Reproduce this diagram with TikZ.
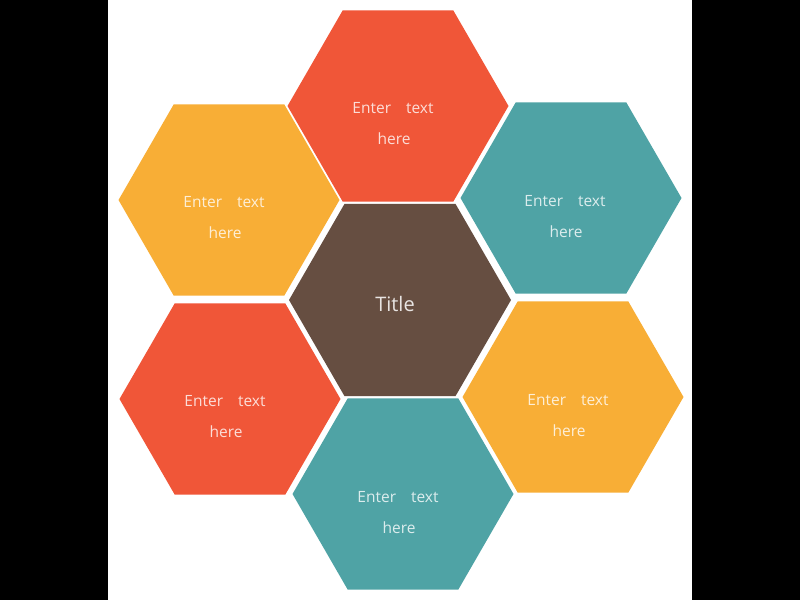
\documentclass[tikz,border=0pt]{standalone}
\usepackage{fontspec}
\setmainfont{Open Sans}
\usetikzlibrary{shapes.geometric}
\definecolor{hexred}{HTML}{F05638}
\definecolor{hexorange}{HTML}{F8AE36}
\definecolor{hexteal}{HTML}{4FA3A5}
\definecolor{hexbrown}{HTML}{664E41}
\begin{document}
\begin{tikzpicture}[x=1pt,y=-1pt,
  hexa/.style={regular polygon, regular polygon sides=6, minimum size=221pt, inner sep=0pt, outer sep=0pt, draw=none},
  txt/.style={text=white, text opacity=0.8, font=\fontsize{15.5}{18}\selectfont, anchor=base, inner sep=0pt},
  ttl/.style={text=white, text opacity=0.85, font=\fontsize{20}{23}\selectfont, anchor=base, inner sep=0pt}
]
\fill[white] (0,0) rectangle (800,600);
\fill[black] (0,0) rectangle (108,600);
\fill[black] (692,0) rectangle (800,600);
% hexagons
\node[hexa, minimum size=222pt, fill=hexbrown] (c)  at (400,300) {};
\node[hexa, fill=hexred]    (t)  at (398,106) {};
\node[hexa, fill=hexorange] (tl) at (229,200) {};
\node[hexa, fill=hexteal]   (tr) at (571,198) {};
\node[hexa, fill=hexred]    (bl) at (230,399) {};
\node[hexa, fill=hexorange] (br) at (573,397) {};
\node[hexa, fill=hexteal]   (b)  at (403,494) {};
% texts
\node[ttl] (ct) at (395,311) {Title};
\node[txt] (t1) at (393,113) {Enter\hspace{15pt}text};
\node[txt] (t2) at (394,144) {here};
\node[txt] (tl1) at (224,207) {Enter\hspace{15pt}text};
\node[txt] (tl2) at (225,238) {here};
\node[txt] (tr1) at (565,206) {Enter\hspace{15pt}text};
\node[txt] (tr2) at (566,237) {here};
\node[txt] (bl1) at (225,406) {Enter\hspace{15pt}text};
\node[txt] (bl2) at (226,437) {here};
\node[txt] (br1) at (568,405) {Enter\hspace{15pt}text};
\node[txt] (br2) at (569,436) {here};
\node[txt] (b1) at (398,502) {Enter\hspace{15pt}text};
\node[txt] (b2) at (399,533) {here};
\end{tikzpicture}
\end{document}
